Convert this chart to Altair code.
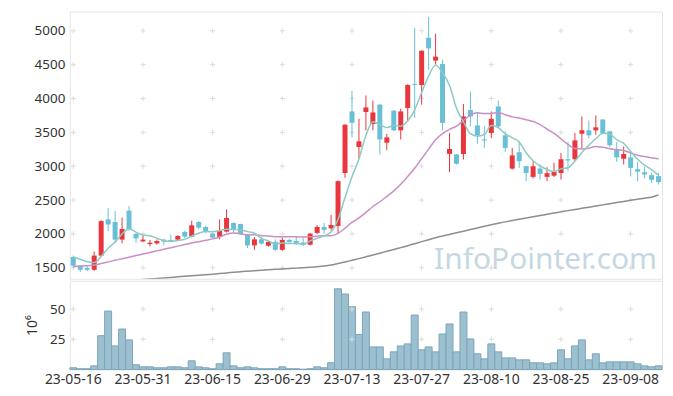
import altair as alt
import pandas as pd

# ---------------- data ----------------
holidays = ["2023-05-29", "2023-06-06", "2023-08-15"]
days = pd.bdate_range("2023-05-16", "2023-09-14", freq="C", holidays=holidays)
dates = [d.strftime("%y-%m-%d") for d in days]

label_dates = ["23-05-16", "23-05-31", "23-06-15", "23-06-29", "23-07-13",
               "23-07-27", "23-08-10", "23-08-25", "23-09-08"]
price_ticks = [1500, 2000, 2500, 3000, 3500, 4000, 4500, 5000]
volume_ticks = [25, 50]

open_ = [1660, 1530, 1500, 1470, 1680, 2215, 2176, 1916, 2344, 2000,
         1890, 1850, 1860, 1915, 1910, 1916, 2030, 1960, 2176, 2103,
         2004, 1956, 2034, 2162, 2147, 1995, 1830, 1920, 1826, 1882,
         1765, 1910, 1897, 1873, 1840, 2015, 2103, 2083, 2118, 2900,
         3809, 3284, 3800, 3622, 3910, 3347, 3820, 3530, 3860, 4215,
         4200, 4897, 4560, 4509, 3182, 3174, 3180, 3830, 3603, 3395,
         3490, 3882, 3456, 2965, 3206, 3000, 2843, 2966, 2843, 2860,
         2900, 3103, 3103, 3480, 3530, 3530, 3690, 3515, 3250, 3110,
         3130, 2956, 2912, 2868, 2853]
high = [1680, 1535, 1520, 1740, 2200, 2380, 2340, 2240, 2410, 2010,
        1970, 1910, 1920, 1930, 1990, 1985, 2045, 2195, 2190, 2120,
        2010, 2215, 2362, 2170, 2150, 2000, 1955, 1960, 1900, 1920,
        1950, 1930, 1965, 1940, 2010, 2130, 2160, 2280, 2790, 3620,
        4113, 3700, 4044, 3970, 3915, 3476, 3830, 3850, 4210, 5044,
        4710, 5206, 4956, 4574, 3490, 3180, 3920, 4100, 3800, 3590,
        3809, 3970, 3515, 3270, 3368, 3005, 3074, 3025, 2985, 3050,
        3196, 3360, 3490, 3735, 3675, 3750, 3695, 3520, 3360, 3290,
        3220, 3065, 2990, 2900, 2900]
low = [1500, 1440, 1450, 1455, 1670, 2045, 1870, 1860, 2045, 1870,
       1880, 1815, 1840, 1830, 1885, 1905, 1940, 1950, 2070, 2010,
       1935, 1920, 2020, 2020, 1990, 1790, 1765, 1840, 1810, 1750,
       1750, 1870, 1840, 1820, 1830, 2000, 2000, 2054, 2010, 2828,
       3426, 3113, 3530, 3530, 3174, 3235, 3520, 3395, 3655, 3713,
       3910, 4424, 4500, 3530, 2916, 3025, 3100, 3590, 3330, 3270,
       3416, 3570, 3210, 2950, 2975, 2780, 2818, 2804, 2780, 2840,
       2804, 2926, 3074, 3270, 3410, 3465, 3480, 3280, 3065, 3025,
       2850, 2780, 2820, 2755, 2730]
close = [1530, 1470, 1470, 1680, 2190, 2140, 1916, 2073, 2073, 1935,
         1916, 1870, 1895, 1885, 1895, 1970, 1960, 2127, 2093, 2030,
         1946, 2044, 2235, 2068, 1995, 1830, 1920, 1857, 1882, 1765,
         1912, 1880, 1850, 1838, 2005, 2103, 2060, 2132, 2780, 3613,
         3640, 3368, 3868, 3794, 3395, 3426, 3530, 3809, 4200, 4200,
         4706, 4740, 4618, 3640, 3255, 3036, 3735, 3735, 3456, 3380,
         3700, 3590, 3270, 3160, 3074, 2900, 3000, 2887, 2897, 2920,
         3103, 3085, 3382, 3530, 3456, 3574, 3490, 3310, 3130, 3180,
         2975, 2920, 2878, 2800, 2765]
volume = [1.4, 0.6, 0.6, 3.0, 28, 48.4, 19.5, 33.5, 24.5, 3.9,
          2.2, 2.2, 1.4, 1.4, 2.2, 2.2, 1.4, 7.2, 2.2, 1.4,
          0.6, 4.7, 13.8, 3.0, 1.4, 2.2, 1.4, 0.6, 0.6, 0.6,
          2.2, 0.6, 0.6, 0.2, 0.6, 2.2, 1.4, 5.6, 66.8, 62.5,
          52, 28.9, 47.6, 18.7, 18.7, 8.8, 14.6, 19.5, 21.2, 45.1,
          16.3, 18.7, 14.6, 29.4, 37.7, 14.6, 47.6, 25.3, 13, 8.8,
          21.2, 14.6, 9.6, 9.6, 8, 8, 5.5, 5.5, 4.7, 5.5,
          16.3, 8.8, 19.5, 24.5, 8, 13, 5.5, 6.3, 6.3, 6.3,
          6.3, 4.7, 3.0, 2.2, 3.0]
ma5 = [1660, 1627, 1588, 1578, 1668, 1790, 1879, 2000, 2078, 2027,
       1983, 1973, 1938, 1900, 1892, 1903, 1921, 1967, 2009, 2036,
       2031, 2048, 2070, 2065, 2058, 2034, 2010, 1934, 1897, 1851,
       1867, 1859, 1858, 1849, 1897, 1935, 1971, 2028, 2216, 2538,
       2845, 3107, 3454, 3657, 3613, 3570, 3603, 3591, 3672, 3833,
       4089, 4331, 4493, 4381, 4192, 3858, 3657, 3480, 3443, 3468,
       3601, 3572, 3479, 3420, 3359, 3199, 3081, 3004, 2952, 2921,
       2961, 2978, 3077, 3204, 3311, 3405, 3486, 3472, 3392, 3337,
       3217, 3103, 3017, 2951, 2868]
ma20 = [1520, 1525, 1530, 1540, 1563, 1587, 1610, 1633, 1657, 1680,
        1703, 1727, 1750, 1773, 1797, 1820, 1843, 1866, 1886, 1906,
        1927, 1955, 1994, 2013, 2003, 1988, 1988, 1977, 1968, 1959,
        1959, 1959, 1957, 1955, 1960, 1967, 1972, 1972, 2007, 2086,
        2170, 2237, 2318, 2405, 2475, 2554, 2635, 2733, 2848, 2970,
        3110, 3253, 3391, 3481, 3544, 3591, 3674, 3754, 3788, 3777,
        3780, 3791, 3761, 3729, 3713, 3687, 3660, 3614, 3549, 3485,
        3405, 3322, 3260, 3255, 3265, 3292, 3279, 3258, 3242, 3232,
        3196, 3162, 3143, 3125, 3109]
ma120 = [1232, 1242, 1252, 1262, 1272, 1282, 1291, 1300, 1309, 1318,
         1326, 1334, 1342, 1350, 1358, 1366, 1374, 1382, 1390, 1397,
         1405, 1414, 1424, 1434, 1443, 1450, 1457, 1464, 1471, 1477,
         1483, 1489, 1495, 1501, 1508, 1516, 1526, 1540, 1562, 1585,
         1610, 1635, 1662, 1690, 1716, 1743, 1770, 1798, 1826, 1856,
         1886, 1915, 1944, 1970, 1993, 2016, 2040, 2064, 2088, 2112,
         2136, 2158, 2178, 2198, 2217, 2236, 2254, 2272, 2290, 2308,
         2326, 2344, 2361, 2378, 2395, 2412, 2429, 2446, 2463, 2480,
         2496, 2512, 2528, 2543, 2575]

df = pd.DataFrame({"date": dates, "open": open_, "high": high, "low": low,
                   "close": close, "volume": volume,
                   "ma5": ma5, "ma20": ma20, "ma120": ma120})
grid_price = pd.DataFrame([(d, t) for d in label_dates for t in price_ticks],
                          columns=["date", "tick"])
grid_vol = pd.DataFrame([(d, t) for d in label_dates for t in volume_ticks],
                        columns=["date", "tick"])

# ---------------- styles ----------------
RED = "#e8363c"
BLUE = "#68bfd6"
C5 = "#8ccbc2"
C20 = "#c98fc6"
C120 = "#8e8e8e"
FONT = "Noto Sans"
W = 594

xscale = alt.Scale(domain=dates, paddingInner=0, paddingOuter=0)
pscale = alt.Scale(domain=[1338, 5284], nice=False, zero=False)
vscale = alt.Scale(domain=[0, 73.5], nice=False)

P_AXIS = alt.Axis(values=price_ticks, format="d", title=None, domain=False, ticks=False,
                  grid=False, labelPadding=5, labelFontSize=13.5)
XP_AXIS = alt.Axis(values=label_dates, labels=False, title=None, domain=False,
                   ticks=False, grid=False)
XV_AXIS = alt.Axis(values=label_dates, labelAngle=0, title=None, domain=False,
                   ticks=False, grid=False, labelPadding=3, labelFontSize=14)
V_AXIS = alt.Axis(values=volume_ticks, format="d", title="10⁶", domain=False, ticks=False,
                  grid=False, labelPadding=5, titlePadding=10, labelFontSize=13.5)

xp = alt.X("date:O", scale=xscale, axis=XP_AXIS)
xv = alt.X("date:O", scale=xscale, axis=XV_AXIS)


def py(field):
    return alt.Y(field, scale=pscale, axis=P_AXIS)


def vy(field):
    return alt.Y(field, scale=vscale, axis=V_AXIS)


updown = alt.condition("datum.close >= datum.open", alt.value(RED), alt.value(BLUE))
cross = "M-1,0L1,0M0,-1L0,1"

base = alt.Chart(df)

pgrid = alt.Chart(grid_price).mark_point(shape=cross, size=28, filled=False,
                                         color="#dcdcdc", strokeWidth=1, opacity=1).encode(
    x=xp, y=py("tick:Q"))

watermark = alt.Chart(pd.DataFrame({"t": ["InfoPointer.com"]})).mark_text(
    font=FONT, fontSize=30, color="#c5d8e2", align="right", baseline="alphabetic"
).encode(x=alt.value(589), y=alt.value(258), text="t:N")

wick = base.mark_rule(strokeWidth=1).encode(
    x=xp, y=py("low:Q"), y2="high:Q", color=updown)
body = base.mark_bar(size=5).encode(
    x=xp, y=py("open:Q"), y2="close:Q", color=updown)

line120 = base.mark_line(color=C120, strokeWidth=1.5, clip=True, interpolate="monotone").encode(
    x=xp, y=py("ma120:Q"))
line20 = base.mark_line(color=C20, strokeWidth=1.5, interpolate="monotone").encode(
    x=xp, y=py("ma20:Q"))
line5 = base.mark_line(color=C5, strokeWidth=1.5, interpolate="monotone").encode(
    x=xp, y=py("ma5:Q"))

price = alt.layer(pgrid, watermark, wick, body, line120, line20, line5).properties(
    width=W, height=268)

vgrid = alt.Chart(grid_vol).mark_point(shape=cross, size=28, filled=False,
                                       color="#dcdcdc", strokeWidth=1, opacity=1).encode(
    x=xv, y=vy("tick:Q"))
vbars = base.mark_bar(fill="#9cc0d0", stroke="#7aa6ba", strokeWidth=1).encode(
    x=xv, y=vy("volume:Q"))
vol = alt.layer(vbars, vgrid).properties(width=W, height=89)

chart = alt.vconcat(price, vol, spacing=0).properties(
    padding={"left": 17, "top": 2, "right": 2, "bottom": 0}
).configure_view(stroke="#e4e4e4", strokeWidth=1).configure_axis(
    labelFont=FONT, labelFontSize=13, labelColor="#333333",
    titleFont=FONT, titleFontSize=14, titleFontWeight="normal", titleColor="#333333"
)

chart.save("out.html", embed_options={"renderer": "svg", "actions": False})
